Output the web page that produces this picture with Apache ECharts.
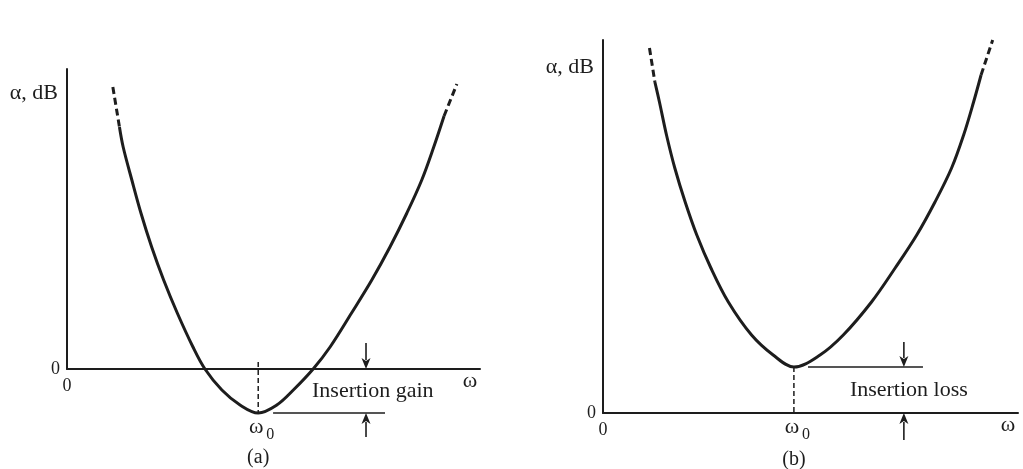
<!DOCTYPE html>
<html>
<head>
<meta charset="utf-8">
<script src="https://cdn.jsdelivr.net/npm/echarts@6/dist/echarts.min.js"></script>
<style>
  html, body { margin: 0; padding: 0; background: #ffffff; }
  #chart { width: 1023px; height: 469px; }
</style>
</head>
<body>
<div id="chart"></div>
<script>
// ---- (a) attenuation curve dipping below 0 dB: insertion gain ----
const omegaA = [12.7, 13.6, 15.7, 17.9, 20.5, 23.4, 26.7, 30.5, 33.4, 37.5, 41.9, 46.3, 50.8, 54.8, 59.6, 63.7, 68.9, 73.8, 78.2, 82.3, 85.9, 88.8, 91.3];
const alphaA = [24.2, 22.2, 18.9, 15.6, 12.2, 8.9, 5.6, 2.2, 0.0, -2.1, -3.6, -4.4, -3.6, -2.1, 0.0, 2.2, 5.6, 8.9, 12.2, 15.6, 18.9, 22.2, 25.3];
// dashed continuations beyond the solid part of the curve
const tailLowA = [[11.1, 28.2], [12.7, 24.2]];
const tailHighA = [[91.3, 25.3], [94.4, 28.5]];
const omega0A = 46.3;
const alphaMinA = -4.4;
const markerTopA = 0.7;                 // top of the dashed ω0 drop line
const gainLevelA = [49.9, 77.0];        // ω span of the level line at the minimum
// arrows: [ω, from α, to α]
const gainArrowsA = [[72.4, 2.6, 0.0], [72.4, -6.8, alphaMinA]];
const yMaxA = 30;

// ---- (b) attenuation curve staying above 0 dB: insertion loss ----
const omegaB = [12.5, 13.6, 15.3, 17.3, 19.8, 22.6, 26.0, 30.2, 35.8, 41.0, 46.0, 52.3, 57.9, 64.7, 70.4, 75.6, 80.0, 84.0, 86.9, 89.3, 91.1];
const alphaB = [33.1, 31.1, 27.8, 24.5, 21.1, 17.8, 14.5, 11.1, 7.8, 5.8, 4.6, 5.8, 7.8, 11.1, 14.5, 17.8, 21.1, 24.5, 27.8, 31.1, 33.8];
const tailLowB = [[11.2, 36.5], [12.5, 33.1]];
const tailHighB = [[91.1, 33.8], [93.9, 37.3]];
const omega0B = 46.0;
const alphaMinB = 4.6;
const lossLevelB = [49.4, 77.1];
const lossArrowsB = [[72.5, 7.1, alphaMinB], [72.5, -2.7, 0.0]];
const yMaxB = 37.3;

const INK = '#1d1d1d';
const FONT = '"Liberation Serif", "Times New Roman", serif';
const FS = 22;

const zip = (xs, ys) => xs.map((x, i) => [x, ys[i]]);

const chart = echarts.init(document.getElementById('chart'));

function xAxisFor(g) {
  return {
    type: 'value', gridIndex: g, min: 0, max: 100, interval: 100,
    axisLine: { show: true, onZero: false, lineStyle: { color: INK, width: 2 } },
    axisTick: { show: false }, splitLine: { show: false },
    axisLabel: {
      formatter: v => (v === 0 ? '0' : ''), margin: 8,
      color: INK, fontFamily: FONT, fontSize: 18
    }
  };
}
function yAxisFor(g, yMax) {
  return {
    type: 'value', gridIndex: g, min: 0, max: yMax, interval: yMax,
    axisLine: { show: true, onZero: false, lineStyle: { color: INK, width: 2 } },
    axisTick: { show: false }, splitLine: { show: false },
    axisLabel: {
      formatter: v => (v === 0 ? '0' : ''), margin: 7,
      color: INK, fontFamily: FONT, fontSize: 18
    }
  };
}

function curve(g, data) {
  return {
    type: 'line', xAxisIndex: g, yAxisIndex: g, data: data,
    smooth: 0.35, showSymbol: false, symbol: 'none', clip: false, silent: true,
    lineStyle: { color: INK, width: 3 }
  };
}
function plain(g, data, width, dash) {
  return {
    type: 'line', xAxisIndex: g, yAxisIndex: g, data: data,
    showSymbol: false, symbol: 'none', clip: false, silent: true,
    lineStyle: { color: INK, width: width, type: dash || 'solid' }
  };
}
// vertical arrows from one α level to another at a given ω
function arrows(g, data) {
  return {
    type: 'custom', xAxisIndex: g, yAxisIndex: g, data: data, silent: true, clip: false,
    encode: { x: 0, y: [1, 2] },
    renderItem: function (params, api) {
      const p0 = api.coord([api.value(0), api.value(1)]);
      const p1 = api.coord([api.value(0), api.value(2)]);
      const dir = p1[1] > p0[1] ? 1 : -1;
      const head = 11, half = 4.5;
      return {
        type: 'group',
        children: [
          {
            type: 'line',
            shape: { x1: p0[0], y1: p0[1], x2: p1[0], y2: p1[1] - dir * (head - 2) },
            style: { stroke: INK, lineWidth: 1.6 }
          },
          {
            type: 'polygon',
            shape: { points: [
              [p1[0], p1[1]],
              [p1[0] - half, p1[1] - dir * head],
              [p1[0], p1[1] - dir * (head - 3)],
              [p1[0] + half, p1[1] - dir * head]
            ] },
            style: { fill: INK }
          }
        ]
      };
    }
  };
}

chart.setOption({
  animation: false,
  backgroundColor: '#ffffff',
  grid: [
    { left: 67, top: 69, width: 413, height: 300 },
    { left: 603, top: 40, width: 415, height: 373 }
  ],
  xAxis: [xAxisFor(0), xAxisFor(1)],
  yAxis: [yAxisFor(0, yMaxA), yAxisFor(1, yMaxB)],
  series: [
    curve(0, zip(omegaA, alphaA)),
    plain(0, tailLowA, 3, [7, 4]),
    plain(0, tailHighA, 3, [7, 4]),
    plain(0, [[omega0A, markerTopA], [omega0A, alphaMinA]], 1.5, [5, 3]),
    plain(0, [[gainLevelA[0], alphaMinA], [gainLevelA[1], alphaMinA]], 1.5),
    arrows(0, gainArrowsA),
    curve(1, zip(omegaB, alphaB)),
    plain(1, tailLowB, 3, [7, 4]),
    plain(1, tailHighB, 3, [7, 4]),
    plain(1, [[omega0B, alphaMinB], [omega0B, 0]], 1.5, [5, 3]),
    plain(1, [[lossLevelB[0], alphaMinB], [lossLevelB[1], alphaMinB]], 1.5),
    arrows(1, lossArrowsB)
  ]
});

// text annotations placed from the axes' own scales
const px = (g, pt) => chart.convertToPixel({ gridIndex: g }, pt);
function txt(x, y, text, align, size) {
  return {
    type: 'text', x: x, y: y, silent: true,
    style: {
      text: text, fill: INK, font: (size || FS) + 'px ' + FONT,
      textAlign: align || 'center', textVerticalAlign: 'middle'
    }
  };
}
function panelTexts(g, yMax, omega0, yMin, arrowX, caption, bracketText, captionY, alphaDy) {
  const top = px(g, [0, yMax]);
  const end = px(g, [100, 0]);
  const w0 = px(g, [omega0, yMin]);
  const w0Axis = px(g, [omega0, 0]);
  const arrow = px(g, [arrowX, yMin / 2]);
  const wBase = Math.max(w0[1], w0Axis[1]);
  return [
    txt(top[0] - 9, top[1] + alphaDy, 'α, dB', 'right'),
    txt(end[0] - 10, end[1] + 12, 'ω', 'center'),
    txt(w0[0] - 2, wBase + 14, 'ω', 'center'),
    txt(w0[0] + 12, wBase + 22, '0', 'center', 16),
    txt(arrow[0] - 54, arrow[1], bracketText, 'left'),
    txt(w0[0], captionY, caption, 'center', 20)
  ];
}

chart.setOption({
  graphic: [].concat(
    panelTexts(0, yMaxA, omega0A, alphaMinA, gainArrowsA[0][0], '(a)', 'Insertion gain', 458, 24),
    panelTexts(1, yMaxB, omega0B, alphaMinB, lossArrowsB[0][0], '(b)', 'Insertion loss', 460, 27)
  )
});
</script>
</body>
</html>
